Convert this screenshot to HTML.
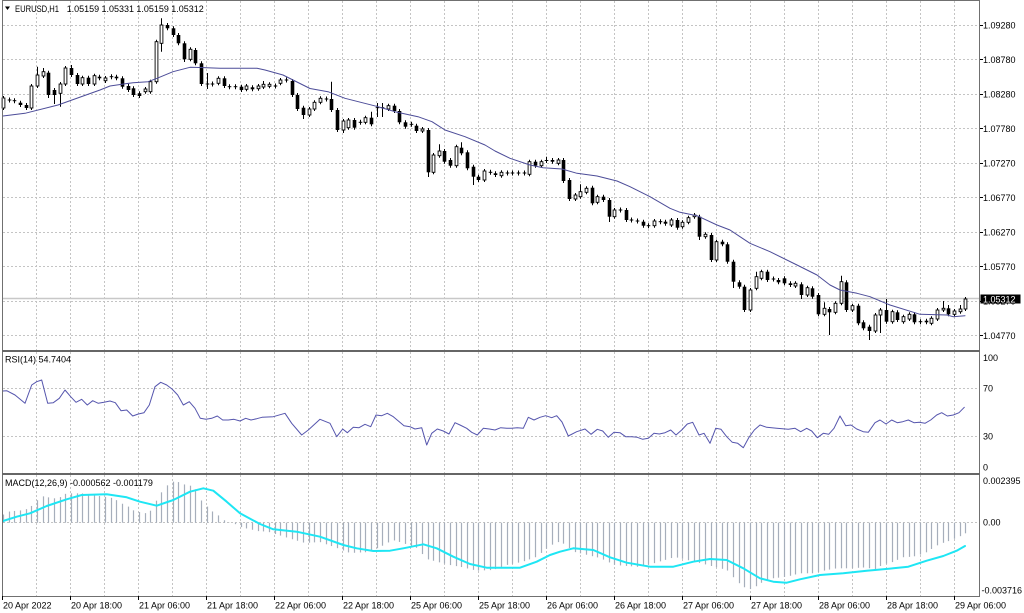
<!DOCTYPE html>
<html><head><meta charset="utf-8"><style>
html,body{margin:0;padding:0;background:#fff;}
svg{display:block;}
text{font-family:"Liberation Sans",Arial,sans-serif;font-size:9px;fill:#000;}
</style></head><body>
<svg id="c" xmlns="http://www.w3.org/2000/svg" width="1024" height="613" viewBox="0 0 1024 613">
<rect x="0" y="0" width="1024" height="613" fill="#fff"/>
<g id="grid"></g>
<g id="series"></g>
<g id="frame"></g>
<g id="labels"></g>
</svg>
<script>
const NS="http://www.w3.org/2000/svg";
function el(tag,attrs,parent){const e=document.createElementNS(NS,tag);for(const k in attrs)e.setAttribute(k,attrs[k]);parent.appendChild(e);return e;}
function txt(p,x,y,s,attrs){const e=el('text',Object.assign({x:x,y:y},attrs||{}),p);e.textContent=s;return e;}
const G=document.getElementById('grid'),S=document.getElementById('series'),F=document.getElementById('frame'),L=document.getElementById('labels');
const gridCol="#c4c4c4";
// vertical grid
for(let k=1;k<=28;k++){const x=2+34*k+0.5;
 [[1,350],[352,473],[475,597]].forEach(r=>el('line',{x1:x,x2:x,y1:r[0],y2:r[1],stroke:gridCol,'stroke-width':1,'stroke-dasharray':'2,2'},G));}
// horizontal grid main
const prices=[["1.09280",24.8],["1.08780",59.3],["1.08280",93.8],["1.07780",128.3],["1.07270",162.8],["1.06770",197.3],["1.06270",231.8],["1.05770",266.3],["1.05270",300.8],["1.04770",335.3]];
prices.forEach(p=>{const y=Math.round(p[1])+0.5;el('line',{x1:3,x2:979,y1:y,y2:y,stroke:gridCol,'stroke-width':1,'stroke-dasharray':'2,2'},G);});
[388.5,436.5,522.5].forEach(y=>el('line',{x1:3,x2:979,y1:y,y2:y,stroke:gridCol,'stroke-width':1,'stroke-dasharray':'2,2'},G));
// bid line
el('line',{x1:3,x2:979,y1:298.5,y2:298.5,stroke:"#c8c8c8",'stroke-width':1.5},G);

// candles
const C=[
[0,98,108,96,110],[2,100],[2,100.7],[1,102.7,105],[1,105,108],[0,86,108,0,110],[0,75,86,66.7],[0,71.7,76,68],[1,72.7,95,0,98],[1,90,95,0,104],
[0,84,93.3,0,106.7],[0,68,84],[1,68,75,65],[1,75,84],[0,77.7,84],[1,77.7,84],[0,75.7,84],[1,76.7,78.3],[0,78,80.7,0,83],[2,76.7],
[1,76.7,78.3],[1,78.3,86.7],[1,86,90],[1,88.3,95],[1,93.3,96],[0,89,91.7],[0,81.7,91.7],[0,41.7,81.7],[0,25,43.3,18.3,51.7],[1,25,28.3,23],
[1,28.3,35],[1,35,43.3],[1,43.3,59.3,0,62],[0,49.3,59.3],[1,50,63.3],[1,63.3,84],[2,84,84,73,89],[2,84],[0,78.3,83.3],[1,78.3,86],
[2,86.7],[2,86.7],[1,86.7,90],[0,86,89.3],[1,87.3,89.3],[0,86,88.7],[0,84.3,87,81],[0,84.3,86.3],[2,86],[0,80,83.3],
[2,80],[1,81,95],[1,95,109],[1,107.7,115,0,119],[0,109,115],[0,102.3,109],[0,98.3,102.3],[2,99],[1,99,110,81.7],[1,110,130],
[0,121,130,0,133],[0,120,127.7],[1,120,127.7],[2,122.3],[0,117.7,122.3],[1,117.7,124.3,111.7],[2,107.7,107.7,103,117],[2,107.7,107.7,103,117],[0,105.7,109],[1,105.7,111],
[1,111,122.3],[1,122.3,126.7],[2,124.3],[1,125.7,131],[0,129,131],[1,130,172.3,0,177],[0,155,172.3],[0,151,155.7,144.3],[1,151,161.7],[1,160,165.7],
[0,146.7,165.7],[1,147.7,153.3,142.3],[1,152.3,168.3],[1,166.7,176.7,0,185],[1,176.7,180],[0,171,180],[2,172.3],[1,173.3,175],[0,172.3,175.7],[2,173],
[2,173],[2,173],[2,173],[0,161.7,174.3],[1,161.7,165.7],[0,161.7,165.7],[1,160,161,156.7],[1,160,161.7],[0,160,163.3],[1,160,181],
[1,180,199],[0,195,199],[0,191.7,196.7,184.3],[0,188.3,192.3],[1,187.7,203.3],[0,196.7,202.3],[1,196.7,200],[1,200,216.7,0,222],[0,210,216.7],[2,210],
[1,210,220],[2,220],[2,221],[1,221.7,225.7],[2,225.7],[0,221,225.7],[2,221.7],[1,221.7,223.7],[0,220,225],[1,220,227.7],
[0,222.3,226.7],[0,217.7,222.3],[0,215,216.7],[1,216.7,236.7,0,240],[0,234.3,236.7],[1,235,260],[0,241.7,260],[1,241.7,244.3],[1,244.3,261.7],[1,261.7,281.7,0,288],
[1,282.3,286.7],[1,286.7,310],[0,290,310],[0,276.7,288.3,271.7],[0,271.7,278.3],[1,271.7,280],[2,279],[1,280,282.3],[1,278.3,283.3],[1,283.3,285],
[0,283.3,286],[1,284.3,295,0,299],[0,287.7,295],[1,288.3,296.7],[1,295,314.3],[0,308.3,314.3,302.3],[1,309,312.3,0,335],[0,303.3,312.3],[0,281.7,303.3,275.7],[1,282.3,310],
[0,305.7,310],[1,305.7,323.3],[1,322.3,328.3],[1,326.7,331,0,340],[0,315,331],[0,310,315,0,333],[1,310,321.7,299],[0,311.7,321.7],[1,312.3,320],[0,316.7,321.7],
[0,314.3,319],[1,314.3,322.3],[2,321.7],[1,320.7,322.3],[0,318.3,323.3],[0,310,319],[0,308.3,310,301],[1,308.3,314.3,305],[0,311,314.3],[0,309,311.7,305],
[0,299,309,297]
];
function cxOf(i){return Math.round(3+5.66*i)+0.5;}
C.forEach((c,i)=>{
 const cx=cxOf(i);const t=c[0];let top=c[1],bot=(c[2]===undefined?c[1]:c[2]);
 let hi=c[3]||0,lo=c[4]||0;
 if(t===2){if(!hi)hi=top-2.5;if(!lo)lo=top+2.5;}
 else{if(!hi)hi=top-2;if(!lo)lo=bot+2;}
 el('line',{x1:cx,x2:cx,y1:hi,y2:lo,stroke:'#000','stroke-width':1},S);
 if(t===2){el('line',{x1:cx-1.8,x2:cx+1.8,y1:top,y2:top,stroke:'#000','stroke-width':1},S);}
 else if(t===1){el('rect',{x:cx-1.8,y:top,width:3.6,height:Math.max(1,bot-top),fill:'#000'},S);}
 else{el('rect',{x:cx-1.4,y:top,width:2.8,height:Math.max(1,bot-top),fill:'#fff',stroke:'#000','stroke-width':0.9},S);}
});
function pl(pts,col,w,p){el('polyline',{points:pts.map(a=>a[0]+','+a[1]).join(' '),fill:'none',stroke:col,'stroke-width':w,'stroke-linejoin':'round','stroke-linecap':'round'},p);}
// MA
const MA=[[3,116],[25,113.3],[58,105],[100,90],[110,86],[133,82.7],[148,81.7],[157,78.3],[173,71.7],[190,67.3],[200,67.5],[220,68.3],[257,68.3],[265,70],[283,75],[310,88.5],[328,91.7],[345,98.3],[378,106.7],[395,111.7],[418,116.7],[432,121.7],[445,130],[465,136.7],[485,145],[495,151],[510,158.3],[530,165],[543,167.7],[562,169],[577,173.3],[597,176],[617,181],[630,186.7],[650,196.7],[670,208.3],[680,212.3],[697,215.7],[717,225],[730,230],[740,236.7],[750,243.3],[770,251.7],[797,265],[817,275],[830,285],[840,290],[857,293.3],[870,296.7],[890,305],[920,314.3],[947,315],[953,316.7],[965,315.7]];
pl(MA,'#4c4c98',1,S);
// RSI
const RSI=[[3,391],[6.7,390.7],[15,395],[25,403.3],[31.7,385],[36.7,381.7],[41.7,380],[47.7,403.3],[53.3,402.7],[59.3,398.3],[65,390],[70.7,396.7],[76,402.3],[81.7,399.3],[87.3,405],[92.7,400.7],[98.3,403.3],[104,402.3],[110,401],[115.3,402.7],[121,410.7],[126.7,410],[132.7,416],[138.3,414],[144,412.7],[149.3,405],[155,386.7],[160.7,382.3],[166.7,385],[172,389],[177.7,395],[183.3,405],[189.3,401.7],[195,408.3],[200.3,418.3],[206,419.3],[211.7,418.3],[217.3,416],[222.7,420],[228.3,420],[234,419.3],[240,421],[245.7,418.3],[251,420],[256.7,418.7],[262,417.3],[273.3,416.7],[285,413.3],[291.7,423.3],[301.7,435],[308.3,430],[320,419.3],[330,423.3],[336.7,436.7],[342.7,429],[347.3,432.7],[353.3,427.3],[359,427.7],[365,424.3],[370.7,426.7],[376,415],[381.7,415.7],[387.3,413.3],[393.3,416.7],[404,425.7],[410,426.7],[415,429],[421.7,427.7],[426.7,445],[431.7,433.3],[437.3,429],[443.3,431],[449,434],[455,422.7],[460,425],[466.7,428.3],[471.7,432.3],[477.3,435],[483.3,428.3],[489.3,429],[495,430],[500.7,427.7],[506.7,428.3],[511.7,428.3],[517.3,427.7],[523.3,428.3],[528.3,417.3],[534,420],[540,417.3],[545.7,415.7],[551.7,417.7],[556.7,415.7],[562,422],[568.3,436],[576.7,431.7],[585,429],[591,434.3],[597.3,429.3],[602.7,431],[608.3,437.3],[614,432.3],[620,432.7],[625.7,436.7],[631.7,436.7],[637.3,437.3],[642.7,439.3],[648.3,438.3],[654,433.3],[659.3,434],[665,432.7],[670.7,430],[676,435],[681.7,430],[687.3,424],[692.7,422.3],[699,435],[704,433.3],[710,443.3],[715.7,428.3],[721,429.3],[726.7,436.7],[732.3,442.3],[737.7,443.3],[743.3,447.7],[749,437.3],[754.3,430],[760,425],[766.7,427.3],[776.7,428.3],[788.3,429.3],[795,428.3],[800.7,431.7],[806.7,428.3],[811.7,431],[817.3,437.7],[823.3,433.3],[828.7,434.3],[834,428.3],[840,416],[845.7,425.7],[851,425],[856.7,429],[863.3,431.7],[868.3,432.3],[875,422.7],[880,420],[886,424],[891.7,420],[897.3,422.7],[902.7,421.7],[908.3,420],[914,422.7],[919.3,422.3],[925,423.3],[930.7,420],[936.7,415],[941.7,412.7],[947.3,416],[953.3,415],[959,412.7],[964.3,407.3]];
pl(RSI,'#5555ad',1,S);
// MACD histogram
const H=[[2.7,515],[8.3,511.7],[14,511],[25,510],[30.7,506.7],[36,501.7],[41.7,496],[53.3,498.3],[59,498.3],[64.3,494],[70,493.3],[81.7,493.3],[92.7,495],[104,496.7],[110,497.3],[115.3,499.3],[121,503.3],[126.7,505],[132.3,510],[138.3,511.7],[144,513.3],[149.3,512.7],[155,503.3],[160.7,493.3],[166.7,486],[172,481.7],[177.7,481.7],[183.3,484.3],[189.3,485],[195,488.3],[200.3,499.3],[206,505],[211.7,511],[217.3,514.3],[222.7,519.3],[228.3,522.3],[234,523.3],[240,526.7],[245.7,528.3],[251,529.3],[256.7,531],[268,531.7],[285,537],[305,543],[320,542],[337,548],[350,553],[370,552],[382,546],[393,540],[403,543],[417,548],[427,559],[437,561.7],[450,565],[460,566.7],[477,570.7],[493,570],[507,565],[523,561.7],[537,556.7],[547,548.3],[557,541.7],[563,543.3],[575,552],[600,558],[615,565],[640,567],[655,563],[675,557],[700,563],[727,570],[733,576.7],[743,586.7],[750,589.3],[757,586],[763,581.7],[773,578.3],[787,576.7],[800,573.3],[813,573.3],[827,570],[837,568.3],[850,568.3],[867,567.3],[874,570],[879,566.7],[885,564],[891,562.7],[896,560.7],[902,557.3],[913,556.7],[919,555],[925,553.3],[931,549.3],[936,546],[942,543.3],[947,541.7],[953,539.3],[959,537.3],[964.3,533.3]];
function interp(p,x){if(x<=p[0][0])return p[0][1];for(let j=1;j<p.length;j++){if(x<=p[j][0]){const a=p[j-1],b=p[j];return a[1]+(b[1]-a[1])*(x-a[0])/(b[0]-a[0]);}}return p[p.length-1][1];}
for(let i=0;i<C.length;i++){const x=cxOf(i);const y=interp(H,x);el('line',{x1:x,x2:x,y1:522.7,y2:y,stroke:'#a6aebb','stroke-width':1.2},S);}
// signal
const SG=[[3,521],[16.7,516.7],[30,513.3],[46.7,506],[66.7,499.3],[81.7,495],[106.7,494.3],[126.7,497.3],[140,501.7],[156.7,505.7],[173.3,500],[190,491.7],[203.3,488.3],[213.3,490.7],[226.7,501.7],[240,513.3],[260,524],[273.3,529.3],[296.7,531.7],[320,536.7],[343.3,545],[356.7,548.3],[373.3,551],[390,550.7],[403.3,548.3],[423.3,544.3],[436.7,548.3],[453.3,556.7],[470,564],[486.7,567.7],[520,567.7],[536.7,561.7],[550,555],[560,551.7],[573.3,548.3],[593.3,550],[610,557.3],[626.7,562.7],[650,566.7],[673.3,566.7],[693.3,561.7],[710,559],[726.7,560],[743.3,568.3],[760,578.3],[773.3,581.7],[786.7,582.7],[800,579.3],[820,575],[843.3,573.3],[866.7,570.7],[875,570],[893.3,568.3],[908.3,566.7],[926.7,560.7],[943.3,556],[956.7,550.7],[965,546]];
pl(SG,'#1ee6f4',2,S);

// frame
const fc="#707070";
el('line',{x1:2.5,x2:2.5,y1:0,y2:597,stroke:fc,'stroke-width':1},F);
el('line',{x1:979.5,x2:979.5,y1:0,y2:597,stroke:fc,'stroke-width':1},F);
el('line',{x1:2,x2:980,y1:0.5,y2:0.5,stroke:fc,'stroke-width':1},F);
el('line',{x1:2,x2:980,y1:596.5,y2:596.5,stroke:fc,'stroke-width':1},F);
el('rect',{x:2,y:350,width:978,height:2,fill:'#666'},F);
el('rect',{x:2,y:473,width:978,height:2,fill:'#666'},F);

// price labels
prices.forEach(p=>{const y=Math.round(p[1])+0.5;el('line',{x1:980,x2:983,y1:y,y2:y,stroke:'#000','stroke-width':1},L);txt(L,983,p[1]+3.5,p[0]);});
// current price box
el('rect',{x:980.5,y:294.5,width:40,height:9,fill:'#000'},L);
txt(L,983,302.3,"1.05312",{style:"fill:#fff"});
// RSI labels
txt(L,983,361,"100");txt(L,983,391.7,"70");txt(L,983,439.5,"30");txt(L,983,470.7,"0");
// MACD labels
txt(L,983,484,"0.002395");txt(L,983,525.5,"0.00");txt(L,981.5,593.5,"-0.003716");
// time labels
const TL=["20 Apr 2022","20 Apr 18:00","21 Apr 06:00","21 Apr 18:00","22 Apr 06:00","22 Apr 18:00","25 Apr 06:00","25 Apr 18:00","26 Apr 06:00","26 Apr 18:00","27 Apr 06:00","27 Apr 18:00","28 Apr 06:00","28 Apr 18:00","29 Apr 06:00"];
TL.forEach((s,k)=>{const x=2+68*k+0.5;el('line',{x1:x,x2:x,y1:596,y2:600,stroke:'#000','stroke-width':1},L);txt(L,x+0.5,608.5,s);});
// titles
el('polygon',{points:"5,6.5 10,6.5 7.5,10",fill:'#000'},L);
txt(L,15,12,"EURUSD,H1",{textLength:44,lengthAdjust:"spacingAndGlyphs"});
txt(L,66.7,12,"1.05159 1.05331 1.05159 1.05312",{textLength:137,lengthAdjust:"spacingAndGlyphs"});
txt(L,5,362.5,"RSI(14) 54.7404");
txt(L,5,486,"MACD(12,26,9) -0.000562 -0.001179");
</script>
</body></html>
